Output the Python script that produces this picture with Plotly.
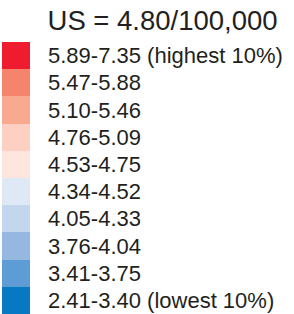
import plotly.graph_objects as go

title_text = "US = 4.80/100,000"
labels = [
    "5.89-7.35 (highest 10%)",
    "5.47-5.88",
    "5.10-5.46",
    "4.76-5.09",
    "4.53-4.75",
    "4.34-4.52",
    "4.05-4.33",
    "3.76-4.04",
    "3.41-3.75",
    "2.41-3.40 (lowest 10%)",
]
colors = [
    "#EE1C2E", "#F4856C", "#F8A98F", "#FDD0C1", "#FEE6DF",
    "#DFE9F5", "#C4D6EE", "#94B8E0", "#5E9CD5", "#0779C2",
]
swatch_len = [1] * len(labels)
label_x = 1.62

fig = go.Figure()
fig.add_trace(go.Bar(
    y=labels, x=swatch_len, base=0, orientation="h",
    marker=dict(color=colors, line=dict(width=0)),
    hoverinfo="skip", showlegend=False,
))
for lab in labels:
    fig.add_annotation(
        x=label_x, y=lab, text=lab, showarrow=False,
        xanchor="left", yanchor="middle", borderpad=0,
        font=dict(family="Liberation Sans, Arial, sans-serif", size=22, color="#231F20"),
    )

fig.update_layout(
    width=294, height=314,
    margin=dict(l=2, r=0, t=42, b=0),
    paper_bgcolor="white", plot_bgcolor="white",
    bargap=0,
    title=dict(
        text=title_text, x=0.553, xanchor="center", xref="container",
        y=0.935, yanchor="middle", yref="container",
        font=dict(family="Liberation Sans, Arial, sans-serif", size=27.5, color="#231F20"),
    ),
    xaxis=dict(range=[0, 292 / 28], visible=False, fixedrange=True),
    yaxis=dict(autorange="reversed", visible=False, fixedrange=True),
)
fig.write_html(
    "out.html",
    config={"displayModeBar": False, "staticPlot": True},
    post_script="document.body.style.margin='0';",
)
